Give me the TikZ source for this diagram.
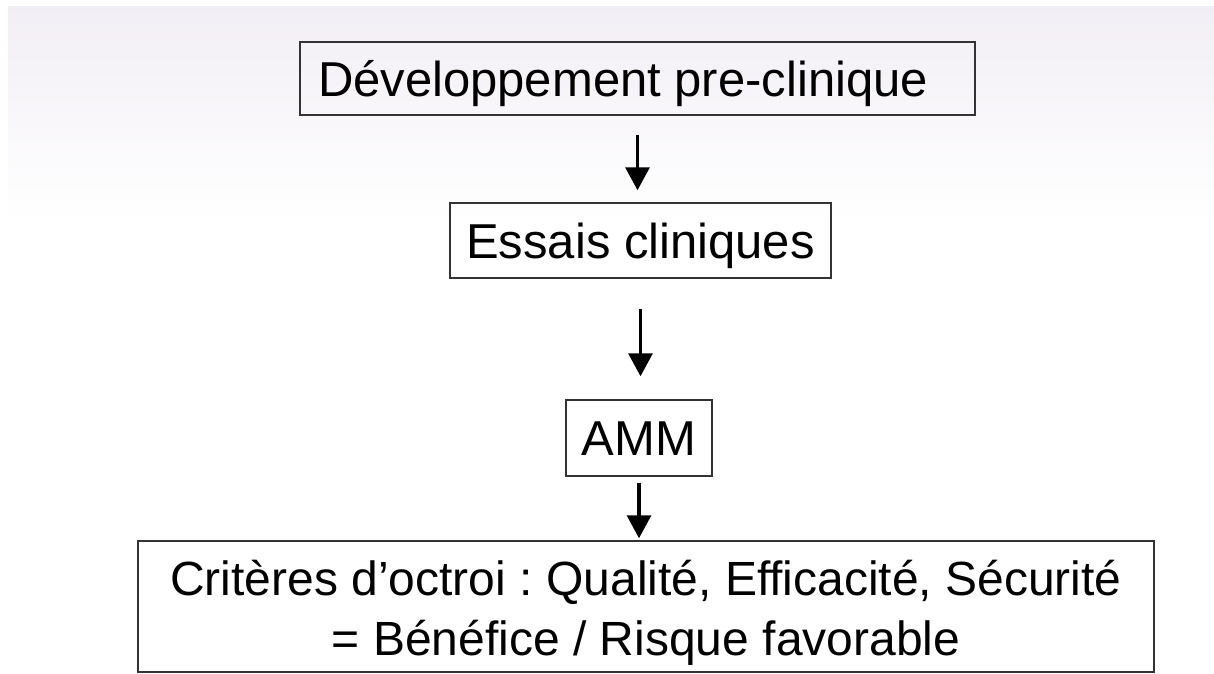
\documentclass[tikz,border=0pt]{standalone}
\usepackage{fontspec}
\setmainfont{Liberation Sans}
\usetikzlibrary{arrows.meta}

\definecolor{fondhaut}{RGB}{242,238,245}
\definecolor{fondmilieu}{RGB}{249,251,250}

\begin{document}
\frenchspacing
\begin{tikzpicture}[x=1pt,y=-1pt,
		cadre/.style={draw=black!80, line width=1.5pt, inner sep=0pt, font=\fontsize{48}{60}\selectfont},
		etape/.style={cadre, font=\fontsize{49}{60}\selectfont, text height=35.1pt, text depth=0pt},
		fleche/.style={-{Triangle[width=24pt,length=23pt]}, line width=3.2pt}]
		\useasboundingbox (0,0) rectangle (1214,673);
		\shade[top color=fondhaut, middle color=fondmilieu, bottom color=white] (8,6) rectangle (1214,220);

		\node[etape, inner xsep=18pt, minimum height=73pt] (dev) at (637.5,78.5) {\makebox[639pt][l]{Développement pre-clinique}};
		\node[etape, minimum width=381pt, minimum height=75pt] (essais) at (640.5,240.5) {Essais cliniques};
		\node[etape, minimum width=146pt, minimum height=76pt] (amm) at (639,438) {AMM};
		\node[cadre, minimum width=1016pt, minimum height=131pt] (criteres) at (646,606.5) {\raisebox{-6.5pt}[\height][\depth]{\begin{tabular}{@{}c@{}}Critères d’octroi : Qualité, Efficacité, Sécurité\\= Bénéfice / Risque favorable\end{tabular}}};

		\draw[fleche, shorten <=19pt, shorten >=12pt] (dev.south) -- (dev.south |- essais.north);
		\draw[fleche, shorten <=30pt, shorten >=23pt] (essais.south) -- (essais.south |- amm.north);
		\draw[fleche, shorten <=6pt, shorten >=2pt] (amm.south) -- (amm.south |- criteres.north);
	\end{tikzpicture}
\end{document}
